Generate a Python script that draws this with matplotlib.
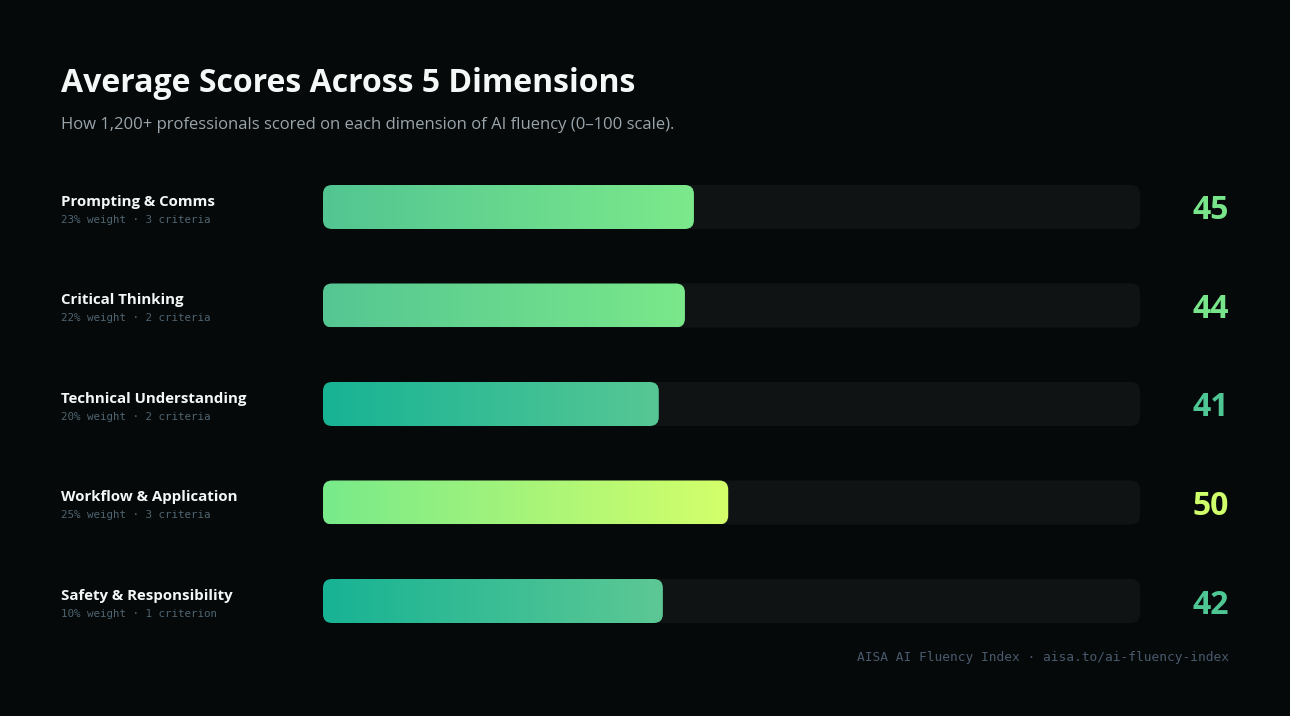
import numpy as np
import matplotlib
matplotlib.use("Agg")
from matplotlib import pyplot as plt
from matplotlib.patches import FancyBboxPatch
from matplotlib.colors import LinearSegmentedColormap

# data
dimensions = ["Prompting & Comms", "Critical Thinking", "Technical Understanding",
              "Workflow & Application", "Safety & Responsibility"]
details = ["23% weight · 3 criteria", "22% weight · 2 criteria", "20% weight · 2 criteria",
           "25% weight · 3 criteria", "10% weight · 1 criterion"]
scores = [45.4, 44.3, 41.1, 49.6, 41.6]
grad_start = ["#52c592", "#55c693", "#17b394", "#78ea8a", "#17b394"]
grad_end = ["#7ce98b", "#7ae88a", "#57c795", "#d4ff6a", "#5dc894"]
value_colors = ["#78e58a", "#78e58a", "#4fc795", "#cfff6b", "#4fc795"]

W, H = 1290, 716
BG = "#05090a"
TRACK = "#0f1314"

fig = plt.figure(figsize=(W / 100, H / 100), dpi=100, facecolor=BG)

def fx(x):
    return x / W

def fy(y):
    return 1 - y / H

# bar area in pixels
left, right = 323, 1140
row0, step = 207, 98.5
top = row0 - step / 2
bottom = row0 + step * 4.5
ax = fig.add_axes([fx(left), fy(bottom), (right - left) / W, (bottom - top) / H])
ax.set_facecolor(BG)
ax.axis("off")

bar_h = 44 / step
px_x = (right - left) / 100.0
aspect = px_x / step
r = 9 / px_x

for i, s in enumerate(scores):
    track = FancyBboxPatch((0, i - bar_h / 2), 100, bar_h,
                           boxstyle="round,pad=0,rounding_size=%f" % r,
                           mutation_aspect=aspect, fc=TRACK, ec="none", zorder=1)
    ax.add_patch(track)
    bar = FancyBboxPatch((0, i - bar_h / 2), s, bar_h,
                         boxstyle="round,pad=0,rounding_size=%f" % r,
                         mutation_aspect=aspect, fc="none", ec="none", zorder=2)
    ax.add_patch(bar)
    cmap = LinearSegmentedColormap.from_list("g%d" % i, [grad_start[i], grad_end[i]])
    im = ax.imshow(np.linspace(0, 1, 256).reshape(1, -1), cmap=cmap, aspect="auto",
                   extent=[0, s, i + bar_h / 2, i - bar_h / 2],
                   interpolation="bilinear", zorder=3)
    im.set_clip_path(bar)

    cy = row0 + step * i
    fig.text(fx(61), fy(cy - 5), dimensions[i], color="#f4f7f6", fontsize=10.8,
             fontweight="bold", family="Open Sans", ha="left", va="center")
    fig.text(fx(61), fy(cy + 13), details[i], color="#4f6470", fontsize=7.8,
             family="DejaVu Sans Mono", ha="left", va="center")
    fig.text(fx(1229), fy(cy + 4), "%d" % round(s), color=value_colors[i], fontsize=23,
             fontweight="bold", family="Open Sans", ha="right", va="center")

ax.set_xlim(0, 100)
ax.set_ylim(len(scores) - 0.5, -0.5)

fig.text(fx(61), fy(84), "Average Scores Across 5 Dimensions", color="#f4f9f7",
         fontsize=23, fontweight="bold", family="Open Sans", ha="left", va="center")
fig.text(fx(61), fy(125), "How 1,200+ professionals scored on each dimension of AI fluency (0–100 scale).",
         color="#9aa5ab", fontsize=12, family="Open Sans", ha="left", va="center")
fig.text(fx(1229), fy(658), "AISA AI Fluency Index · aisa.to/ai-fluency-index",
         color="#4a5a6c", fontsize=9.3, family="DejaVu Sans Mono", ha="right", va="center")

fig.savefig("out.png", dpi=100, facecolor=BG)
